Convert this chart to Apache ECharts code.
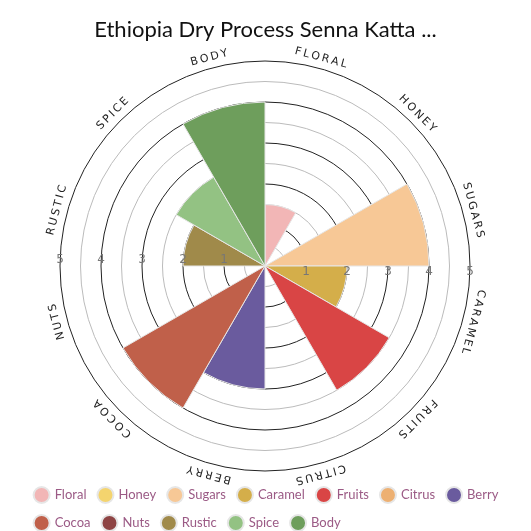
<!DOCTYPE html>
<html><head><meta charset="utf-8">
<script src="https://cdn.jsdelivr.net/npm/echarts@6/dist/echarts.min.js"></script>
<style>html,body{margin:0;padding:0;background:#fff}#c{width:531px;height:531px}</style>
</head><body><div id="c"></div>
<script>
const categories = ['Floral','Honey','Sugars','Caramel','Fruits','Citrus','Berry','Cocoa','Nuts','Rustic','Spice','Body'];
const values = [1.5, 0, 4, 2, 3.5, 0, 3, 4, 0, 2, 2.5, 4];
const colors = ['#f2b6b6','#f4d46e','#f7c896','#d4ae4a','#d94545','#edb072','#6a5b9e','#c0604a','#8e4444','#a08a4a','#93c283','#6e9e5c'];
const radiusTicks = [1,2,3,4,5];

const cx = 265, cy = 266, R = 205;
const chart = echarts.init(document.getElementById('c'));
const series = categories.map((c,i)=>({
  name:c, type:'bar', coordinateSystem:'polar', polarIndex:0, stack:'a',
  data: categories.map((_,j)=> j===i ? values[i] : '-'),
  barCategoryGap:'0%',
  itemStyle:{color:colors[i], borderColor:'#e6e6e6', borderWidth:1},
  emphasis:{disabled:true}
}));
const graphics = categories.map((c,i)=>{
  const th = (15 + 30*i) * Math.PI/180, r = R + 5;
  return {type:'text', x: cx + r*Math.sin(th), y: cy - r*Math.cos(th), rotation: -th,
    style:{text:c.toUpperCase().split('').join('\u2009'), fill:'#222', font:'11px "DejaVu Sans"', align:'center', verticalAlign:'bottom'}};
});
const labelFmt = v => radiusTicks.includes(v) ? String(v) : '';
const hiddenAngle = (idx, start) => ({polarIndex:idx, type:'category', data:categories, startAngle:start, boundaryGap:true,
  axisLine:{show:false}, axisTick:{show:false}, axisLabel:{show:false}, splitLine:{show:false}});
chart.setOption({
  animation:false,
  title:{text:'Ethiopia Dry Process Senna Katta ...', left:'center', top:14, textStyle:{fontFamily:'Lato', fontSize:22, fontWeight:'normal', color:'#111'}},
  polar:[{center:[cx,cy], radius:R},{center:[cx,cy], radius:R},{center:[cx,cy], radius:R}],
  angleAxis:[hiddenAngle(0,90), hiddenAngle(1,0), hiddenAngle(2,180)],
  radiusAxis:[
    {polarIndex:0, type:'value', min:0, max:5, interval:0.5, axisLine:{show:false}, axisTick:{show:false}, axisLabel:{show:false},
     splitLine:{show:true, lineStyle:{color:['#222','#bbb'], width:1}}},
    {polarIndex:1, type:'value', min:0, max:5, interval:0.5, axisLine:{show:false}, axisTick:{show:false}, splitLine:{show:false}, z:10,
     axisLabel:{formatter:labelFmt, color:'#777', fontSize:12, fontFamily:'DejaVu Sans', margin:-6, verticalAlign:'middle'}},
    {polarIndex:2, type:'value', min:0, max:5, interval:0.5, axisLine:{show:false}, axisTick:{show:false}, splitLine:{show:false}, z:10,
     axisLabel:{formatter:labelFmt, color:'#777', fontSize:12, fontFamily:'DejaVu Sans', margin:-6, verticalAlign:'middle'}}
  ],
  legend:{data:categories, top:481, left:'center', width:505, icon:'circle', itemWidth:16, itemHeight:16, itemGap:10,
    textStyle:{color:'#9b5a85', fontSize:13, fontFamily:'Lato'}},
  graphic:graphics,
  series:series
});
</script></body></html>
